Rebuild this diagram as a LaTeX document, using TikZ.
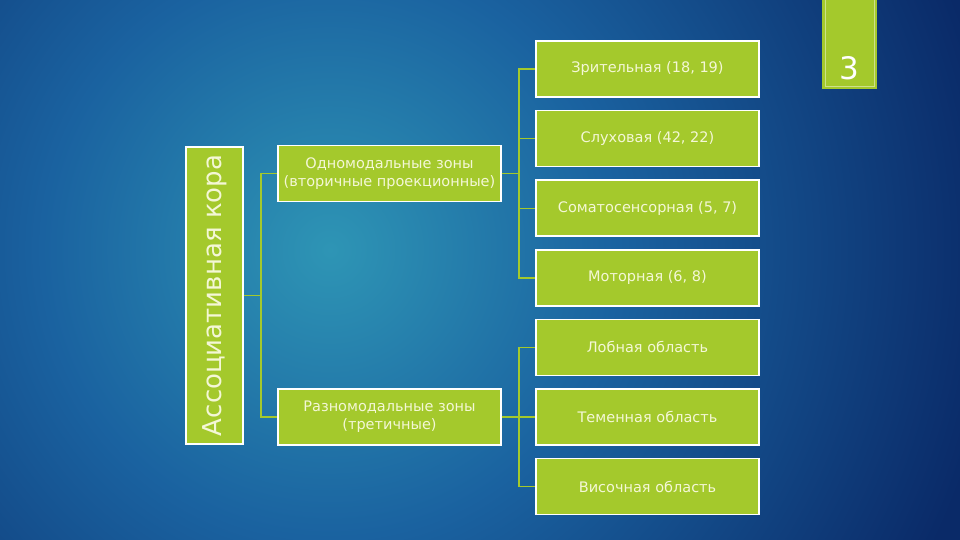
\documentclass[tikz,border=0pt]{standalone}
\usepackage{fontspec}
\setmainfont{DejaVu Sans}
\usepackage{tikz}
\usetikzlibrary{positioning}
\definecolor{slidedark}{HTML}{0A2A68}
\definecolor{slidemid}{HTML}{1A62A0}
\definecolor{slidelight}{HTML}{2E95B5}
\definecolor{zonegreen}{HTML}{A4C92C}
\definecolor{zonetext}{HTML}{F4F7D6}
\pgfdeclareradialshading{slideglow}{\pgfpoint{0bp}{0bp}}{%
  color(0bp)=(slidelight); color(9bp)=(slidemid); color(21bp)=(slidedark); color(50bp)=(slidedark)}
\tikzset{
  zone/.style={rectangle,draw=white,line width=1.6pt,fill=zonegreen,
    minimum width=223pt,minimum height=56pt,align=center,text=zonetext,
    font=\fontsize{14.5}{18}\selectfont},
  bigzone/.style={zone,minimum width=57pt,minimum height=297pt,inner sep=2pt,
    font=\fontsize{26}{30}\selectfont},
  link/.style={draw=zonegreen,line width=1.4pt},
  numtab/.style={rectangle,fill=zonegreen,minimum width=55pt,minimum height=89pt,inner sep=0pt},
  numline/.style={draw=zonegreen!55!white,line width=0.5pt},
  numtext/.style={text=white,font=\fontsize{31}{34}\selectfont,inner sep=0pt}
}

\begin{document}
\begin{tikzpicture}[x=1pt,y=1pt,node distance=12pt]
% background
\useasboundingbox (0,0) rectangle (960,-540);
\fill[slidedark] (0,0) rectangle (960,-540);
\begin{scope}
  \clip (0,0) rectangle (960,-540);
  \shade[shading=slideglow] (330,-250) circle (800);
\end{scope}

% slide number
\node[numtab] (num) at (849.5,-44.5) {};
\draw[numline] ([xshift=3pt]num.north west) |- ([xshift=-3pt,yshift=3pt]num.south east) -- ([xshift=-3pt]num.north east);
\node[numtext,above=9pt of num.south] (numlabel) {3};

% tree
\node[bigzone] (assoc) at (214.5,-295.5) {\rotatebox{90}{Ассоциативная кора}};
\node[zone] (mono) at (389.5,-173.5) {Одномодальные зоны\\(вторичные проекционные)};
\node[zone] (poly) at (389.5,-417) {Разномодальные зоны\\(третичные)};

\node[zone] (vis) at (647.5,-69) {Зрительная (18, 19)};
\node[zone,below=of vis] (aud) {Слуховая (42, 22)};
\node[zone,below=of aud] (soma) {Соматосенсорная (5, 7)};
\node[zone,below=of soma] (motor) {Моторная (6, 8)};
\node[zone,below=of motor] (front) {Лобная область};
\node[zone,below=of front] (pariet) {Теменная область};
\node[zone,below=of pariet] (tempo) {Височная область};

\draw[link] (assoc.east) -- +(17,0) |- (mono.west);
\draw[link] (assoc.east) -- +(17,0) |- (poly.west);
\foreach \n in {vis,aud,soma,motor}
  \draw[link] (mono.east) -- +(17,0) |- (\n.west);
\foreach \n in {front,pariet,tempo}
  \draw[link] (poly.east) -- +(17,0) |- (\n.west);
\end{tikzpicture}
\end{document}
